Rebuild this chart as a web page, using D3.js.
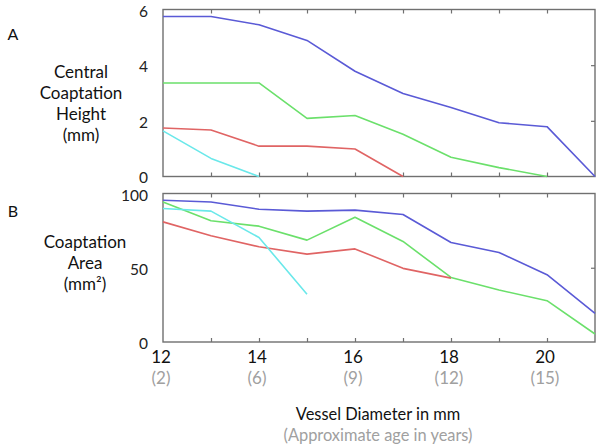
<!DOCTYPE html>
<html><head><meta charset="utf-8">
<script src="https://cdn.jsdelivr.net/npm/d3@7"></script>
<style>body{margin:0;background:#fff}svg{display:block}text{font-family:Lato,"Open Sans",sans-serif}</style>
</head><body><svg id="c" width="600" height="446"></svg>
<script>
const diameters = [12,13,14,15,16,17,18,19,20,21];
const ageLabels = ["(2)","(6)","(9)","(12)","(15)"];
const xTickLabels = [12,14,16,18,20];
const heightTicks = [0,2,4,6];
const areaTicks = [0,50,100];
const seriesColors = ["#5a5ad6","#6be06b","#e06464","#6ae8ea"];
// Panel A: central coaptation height (mm)
const heightBlue  = [5.75,5.75,5.45,4.89,3.78,2.98,2.48,1.93,1.79,0];
const heightGreen = [3.36,3.36,3.36,2.09,2.19,1.52,0.69,0.32,0];
const heightRed   = [1.74,1.67,1.09,1.09,0.99,0];
const heightCyan  = [1.64,0.65,0];
// Panel B: coaptation area (mm^2)
const areaBlue  = [95.5,94.3,89.4,88.1,88.8,85.9,67,60.3,45.3,19.3];
const areaGreen = [94.3,81.6,78,68.6,84,67.7,43.5,35,27.8,5.4];
const areaRed   = [80.9,71.5,64.1,59.2,62.7,49.6,43];
const areaCyan  = [89.9,88.1,70.4,32.1];

const svg = d3.select("#c");
const x = d3.scaleLinear().domain([12,21]).range([163,595]);
const yA = d3.scaleLinear().domain([0,6]).range([176.5,9.5]);
const yB = d3.scaleLinear().domain([0,100]).range([342,193.5]);
const axisCol = "#707070";

function panel(y, ticks, rightTicks, seriesList, labelShift){
  const [y0,y1] = y.range();
  const g = svg.append("g");
  g.append("rect").attr("x",x(12)).attr("y",y1).attr("width",x(21)-x(12)).attr("height",y0-y1)
    .attr("fill","none").attr("stroke",axisCol).attr("stroke-width",1.4);
  const top = d3.axisTop(x).tickValues(diameters.slice(1,-1)).tickSize(-4).tickFormat("");
  const bot = d3.axisBottom(x).tickValues(diameters.slice(1,-1)).tickSize(-4).tickFormat("");
  g.append("g").attr("transform",`translate(0,${y1})`).call(top);
  g.append("g").attr("transform",`translate(0,${y0})`).call(bot);
  const right = d3.axisRight(y).tickValues(rightTicks).tickSize(-4).tickFormat("");
  g.append("g").attr("transform",`translate(${x(21)},0)`).call(right);
  g.selectAll(".domain").remove();
  g.selectAll(".tick line").attr("stroke",axisCol).attr("stroke-width",1.2);
  const left = d3.axisLeft(y).tickValues(ticks).tickSize(0).tickPadding(15).tickFormat(d3.format("d"));
  const la = g.append("g").attr("transform",`translate(${x(12)},0)`).call(left);
  la.select(".domain").remove();
  la.selectAll("text").attr("font-size",15.5).attr("fill","#222").attr("font-family","Lato, sans-serif")
    .attr("dy","0.36em").attr("y",d=>labelShift(d));
  const line = d3.line().x((d,i)=>x(diameters[i])).y(d=>y(d));
  seriesList.forEach((s,k)=>{
    g.append("path").datum(s).attr("d",line).attr("fill","none")
      .attr("stroke",seriesColors[k]).attr("stroke-width",1.6).attr("stroke-linejoin","round");
  });
}
panel(yA, heightTicks, [2,4], [heightBlue,heightGreen,heightRed,heightCyan], d=>d===0?0:(d===6?1:1));
panel(yB, areaTicks, [50], [areaBlue,areaGreen,areaRed,areaCyan], d=>d===100?1.5:1);

function multiline(lines, cx, cy0, dy, size, fill){
  lines.forEach((t,i)=>{
    svg.append("text").attr("x",cx).attr("y",cy0+i*dy).attr("text-anchor","middle")
      .attr("dominant-baseline","central").attr("font-size",size).attr("fill",fill||"#111").text(t);
  });
}
svg.append("text").attr("x",13).attr("y",33).attr("dominant-baseline","central").attr("text-anchor","middle").attr("font-size",16).attr("fill","#111").text("A");
svg.append("text").attr("x",13).attr("y",210).attr("dominant-baseline","central").attr("text-anchor","middle").attr("font-size",16).attr("fill","#111").text("B");
multiline(["Central","Coaptation","Height","(mm)"],81,71,21,17);
multiline(["Coaptation","Area","(mm\u00B2)"],85,241,21.3,17);

xTickLabels.forEach((v,i)=>{
  svg.append("text").attr("x",x(v)-2).attr("y",356).attr("text-anchor","middle").attr("dominant-baseline","central")
    .attr("font-size",17).attr("fill","#111").text(v);
  svg.append("text").attr("x",x(v)-2).attr("y",377).attr("text-anchor","middle").attr("dominant-baseline","central")
    .attr("font-size",17).attr("fill","#a0a0a0").text(ageLabels[i]);
});
svg.append("text").attr("x",378).attr("y",413).attr("text-anchor","middle").attr("dominant-baseline","central")
  .attr("font-size",16.4).attr("fill","#111").text("Vessel Diameter in mm");
svg.append("text").attr("x",378).attr("y",434).attr("text-anchor","middle").attr("dominant-baseline","central")
  .attr("font-size",16.4).attr("fill","#a0a0a0").text("(Approximate age in years)");
</script></body></html>
